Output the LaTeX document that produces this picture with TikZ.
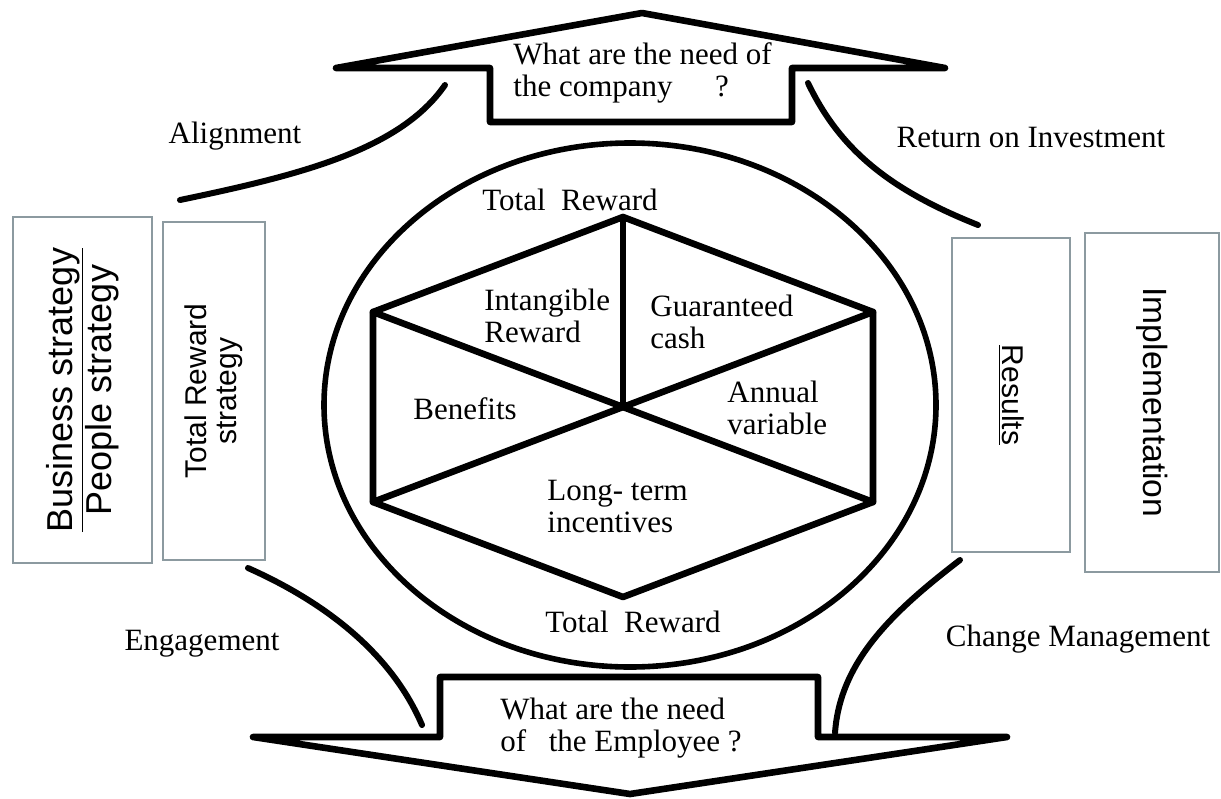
\documentclass[tikz,border=0pt]{standalone}
\usepackage{fontspec}
\setmainfont{Liberation Serif}
\setsansfont{Liberation Sans}
\definecolor{boxGray}{RGB}{140,154,160}
\tikzstyle{heavyLine} = [line width=3.3pt, line join=round, line cap=round]
\tikzstyle{curveLine} = [line width=3pt, line cap=round]
\tikzstyle{ringLine} = [line width=2.8pt]
\tikzstyle{stratBox} = [draw=boxGray, line width=1.4pt, align=center, inner sep=0pt]
\tikzstyle{serifText} = [font=\fontsize{15.5}{16}\selectfont, inner sep=0pt]
\tikzstyle{sectorText} = [serifText, align=left, anchor=west]
\newcommand{\sansSize}[1]{\sffamily\fontsize{#1}{#1}\selectfont}

\begin{document}
\begin{tikzpicture}[x=0.5pt, y=-0.5pt]
  \useasboundingbox (0,0) rectangle (1221,798);

  \draw[ringLine] (630,405) ellipse [x radius=153pt, y radius=131pt];

  \coordinate (hexC) at (623,407);
  \coordinate (hexT) at (623,217);
  \coordinate (hexRT) at (873,312);
  \coordinate (hexRB) at (873,502);
  \coordinate (hexB) at (623,597);
  \coordinate (hexLB) at (373,502);
  \coordinate (hexLT) at (373,312);
  \draw[heavyLine] (hexT) -- (hexRT) -- (hexRB) -- (hexB) -- (hexLB) -- (hexLT) -- cycle;
  \foreach \corner in {hexT,hexRT,hexRB,hexLB,hexLT} {
    \draw[heavyLine] (hexC) -- (\corner);
  }

  \draw[heavyLine] (336,68) -- (642,13) -- (945,68) -- (792,68) -- (792,122) -- (490,122) -- (490,68) -- cycle;
  \draw[heavyLine] (253,737) -- (440,737) -- (440,677) -- (818,677) -- (818,737) -- (1007,737) -- (630,794) -- cycle;

  \draw[curveLine] (445,85) .. controls (400,150) and (300,175) .. (180,200);
  \draw[curveLine] (808,83) .. controls (840,150) and (890,190) .. (978,225);
  \draw[curveLine] (248,568) .. controls (320,600) and (390,650) .. (422,725);
  \draw[curveLine] (960,560) .. controls (895,610) and (840,660) .. (835,733);

  \node[stratBox, rotate=90, minimum width=173pt, minimum height=69.5pt, font=\sansSize{18}] (bizBox) at (82.5,390) {\underline{Business strategy}\\People strategy};
  \node[stratBox, rotate=90, minimum width=169pt, minimum height=51pt, font=\sansSize{15}] (rewardStratBox) at (214,391) {Total Reward\\strategy};
  \node[stratBox, rotate=-90, minimum width=157pt, minimum height=59pt, font=\sansSize{15}] (resultsBox) at (1011,395) {\underline{Results}};
  \node[stratBox, rotate=-90, minimum width=169.5pt, minimum height=67pt, font=\sansSize{16.8}] (implBox) at (1152,402.5) {Implementation};

  \node[sectorText] (companyNeed) at (513,73) {What are the need of\\the company\hspace{1.37em}?};
  \node[sectorText] (employeeNeed) at (500,728) {What are the need\\of\hspace{0.73em}the Employee ?};

  \node[serifText] (alignLabel) at (235,136) {Alignment};
  \node[serifText] (roiLabel) at (1031,137) {Return on Investment};
  \node[serifText] (engageLabel) at (202,644) {Engagement};
  \node[serifText] (changeLabel) at (1078,639) {Change Management};

  \node[serifText] (rewardTop) at (570,200) {Total\ \ Reward};
  \node[serifText] (rewardBottom) at (633,622) {Total\ \ Reward};
  \node[sectorText] (intangible) at (484,316) {Intangible\\Reward};
  \node[sectorText] (guaranteed) at (650,322) {Guaranteed\\cash};
  \node[sectorText] (annual) at (727,408) {Annual\\variable};
  \node[sectorText] (benefits) at (413,409) {Benefits};
  \node[sectorText] (longTerm) at (547,506) {Long- term\\incentives};
\end{tikzpicture}
\end{document}
